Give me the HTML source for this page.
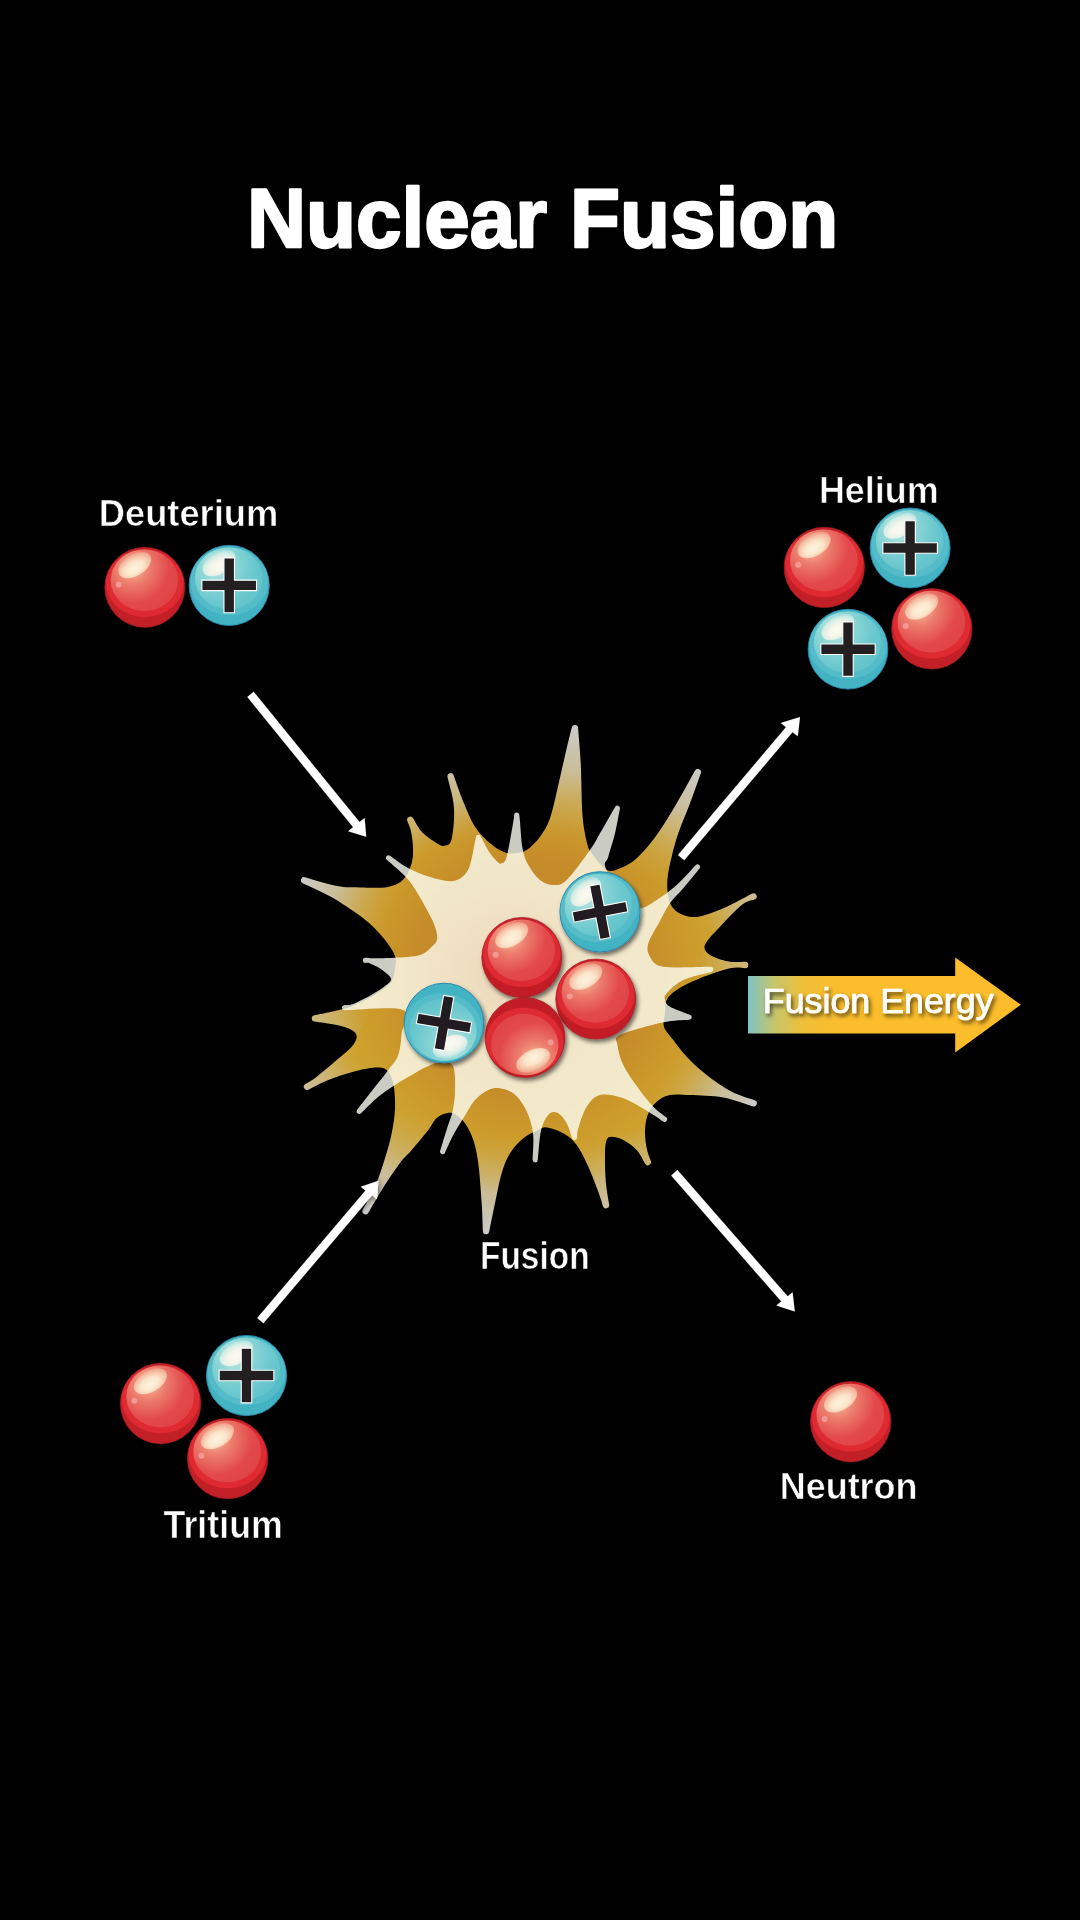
<!DOCTYPE html>
<html><head><meta charset="utf-8"><style>
html,body{margin:0;padding:0;background:#000;width:1080px;height:1920px;overflow:hidden}
svg{display:block}
text{font-family:"Liberation Sans",sans-serif;font-weight:bold;fill:#fff}
</style></head><body>
<svg width="1080" height="1920" viewBox="0 0 1080 1920">
<defs>

<linearGradient id="tg0" gradientUnits="userSpaceOnUse" x1="391.1" y1="916.4" x2="301.1" y2="879.2"><stop offset="0" stop-color="#c9a040" stop-opacity="0"/><stop offset="0.3" stop-color="#c9b070" stop-opacity="0.50"/><stop offset="0.6" stop-color="#c9c0a4" stop-opacity="0.88"/><stop offset="1" stop-color="#cbcbcb" stop-opacity="1.00"/></linearGradient><linearGradient id="tg1" gradientUnits="userSpaceOnUse" x1="424.4" y1="856.0" x2="408.8" y2="817.0"><stop offset="0" stop-color="#c9a040" stop-opacity="0"/><stop offset="0.3" stop-color="#c9b070" stop-opacity="0.23"/><stop offset="0.6" stop-color="#c9c0a4" stop-opacity="0.40"/><stop offset="1" stop-color="#cbcbcb" stop-opacity="0.45"/></linearGradient><linearGradient id="tg2" gradientUnits="userSpaceOnUse" x1="476.5" y1="841.8" x2="449.7" y2="773.3"><stop offset="0" stop-color="#c9a040" stop-opacity="0"/><stop offset="0.3" stop-color="#c9b070" stop-opacity="0.37"/><stop offset="0.6" stop-color="#c9c0a4" stop-opacity="0.65"/><stop offset="1" stop-color="#cbcbcb" stop-opacity="0.74"/></linearGradient><linearGradient id="tg3" gradientUnits="userSpaceOnUse" x1="561.9" y1="844.3" x2="575.0" y2="725.0"><stop offset="0" stop-color="#c9a040" stop-opacity="0"/><stop offset="0.3" stop-color="#c9b070" stop-opacity="0.50"/><stop offset="0.6" stop-color="#c9c0a4" stop-opacity="0.88"/><stop offset="1" stop-color="#cbcbcb" stop-opacity="1.00"/></linearGradient><linearGradient id="tg4" gradientUnits="userSpaceOnUse" x1="646.1" y1="876.8" x2="699.2" y2="769.2"><stop offset="0" stop-color="#c9a040" stop-opacity="0"/><stop offset="0.3" stop-color="#c9b070" stop-opacity="0.50"/><stop offset="0.6" stop-color="#c9c0a4" stop-opacity="0.88"/><stop offset="1" stop-color="#cbcbcb" stop-opacity="1.00"/></linearGradient><linearGradient id="tg5" gradientUnits="userSpaceOnUse" x1="695.9" y1="925.7" x2="756.7" y2="895.0"><stop offset="0" stop-color="#c9a040" stop-opacity="0"/><stop offset="0.3" stop-color="#c9b070" stop-opacity="0.33"/><stop offset="0.6" stop-color="#c9c0a4" stop-opacity="0.57"/><stop offset="1" stop-color="#cbcbcb" stop-opacity="0.65"/></linearGradient><linearGradient id="tg6" gradientUnits="userSpaceOnUse" x1="692.1" y1="974.0" x2="748.3" y2="965.0"><stop offset="0" stop-color="#c9a040" stop-opacity="0"/><stop offset="0.3" stop-color="#c9b070" stop-opacity="0.24"/><stop offset="0.6" stop-color="#c9c0a4" stop-opacity="0.42"/><stop offset="1" stop-color="#cbcbcb" stop-opacity="0.47"/></linearGradient><linearGradient id="tg7" gradientUnits="userSpaceOnUse" x1="671.2" y1="1056.2" x2="756.7" y2="1104.2"><stop offset="0" stop-color="#c9a040" stop-opacity="0"/><stop offset="0.3" stop-color="#c9b070" stop-opacity="0.50"/><stop offset="0.6" stop-color="#c9c0a4" stop-opacity="0.88"/><stop offset="1" stop-color="#cbcbcb" stop-opacity="1.00"/></linearGradient><linearGradient id="tg8" gradientUnits="userSpaceOnUse" x1="635.7" y1="1123.8" x2="649.2" y2="1165.0"><stop offset="0" stop-color="#c9a040" stop-opacity="0"/><stop offset="0.3" stop-color="#c9b070" stop-opacity="0.23"/><stop offset="0.6" stop-color="#c9c0a4" stop-opacity="0.40"/><stop offset="1" stop-color="#cbcbcb" stop-opacity="0.45"/></linearGradient><linearGradient id="tg9" gradientUnits="userSpaceOnUse" x1="582.0" y1="1139.7" x2="606.7" y2="1208.3"><stop offset="0" stop-color="#c9a040" stop-opacity="0"/><stop offset="0.3" stop-color="#c9b070" stop-opacity="0.36"/><stop offset="0.6" stop-color="#c9c0a4" stop-opacity="0.64"/><stop offset="1" stop-color="#cbcbcb" stop-opacity="0.73"/></linearGradient><linearGradient id="tg10" gradientUnits="userSpaceOnUse" x1="499.3" y1="1132.2" x2="485.8" y2="1234.2"><stop offset="0" stop-color="#c9a040" stop-opacity="0"/><stop offset="0.3" stop-color="#c9b070" stop-opacity="0.50"/><stop offset="0.6" stop-color="#c9c0a4" stop-opacity="0.88"/><stop offset="1" stop-color="#cbcbcb" stop-opacity="1.00"/></linearGradient><linearGradient id="tg11" gradientUnits="userSpaceOnUse" x1="414.7" y1="1105.2" x2="364.0" y2="1214.0"><stop offset="0" stop-color="#c9a040" stop-opacity="0"/><stop offset="0.3" stop-color="#c9b070" stop-opacity="0.50"/><stop offset="0.6" stop-color="#c9c0a4" stop-opacity="0.88"/><stop offset="1" stop-color="#cbcbcb" stop-opacity="1.00"/></linearGradient><linearGradient id="tg12" gradientUnits="userSpaceOnUse" x1="364.9" y1="1056.8" x2="304.2" y2="1088.3"><stop offset="0" stop-color="#c9a040" stop-opacity="0"/><stop offset="0.3" stop-color="#c9b070" stop-opacity="0.33"/><stop offset="0.6" stop-color="#c9c0a4" stop-opacity="0.58"/><stop offset="1" stop-color="#cbcbcb" stop-opacity="0.66"/></linearGradient><linearGradient id="tg13" gradientUnits="userSpaceOnUse" x1="369.7" y1="1003.0" x2="311.7" y2="1018.3"><stop offset="0" stop-color="#c9a040" stop-opacity="0"/><stop offset="0.3" stop-color="#c9b070" stop-opacity="0.26"/><stop offset="0.6" stop-color="#c9c0a4" stop-opacity="0.46"/><stop offset="1" stop-color="#cbcbcb" stop-opacity="0.52"/></linearGradient>
<radialGradient id="peach" cx="505" cy="975" r="130" gradientUnits="userSpaceOnUse"><stop offset="0" stop-color="#e8c6a6" stop-opacity="0.5"/><stop offset="0.55" stop-color="#ebd0b0" stop-opacity="0.22"/><stop offset="1" stop-color="#f0dcc0" stop-opacity="0"/></radialGradient>
<linearGradient id="goldEdge"><stop offset="0" stop-color="#ca9b2b" stop-opacity="0"/></linearGradient>
<radialGradient id="rOuter" cx="0" cy="0" r="40" gradientUnits="userSpaceOnUse" fx="0" fy="-30">
 <stop offset="0" stop-color="#d9272d"/><stop offset="1" stop-color="#bb1f26"/>
</radialGradient>
<radialGradient id="rInner" cx="-12" cy="-20" r="48" gradientUnits="userSpaceOnUse">
 <stop offset="0" stop-color="#f7c0a2"/><stop offset="0.35" stop-color="#ec7d6c"/><stop offset="0.75" stop-color="#e3494c"/><stop offset="1" stop-color="#e04447"/>
</radialGradient>
<radialGradient id="rHi" cx="0.45" cy="0.6" r="0.6" fx="0.45" fy="0.62">
 <stop offset="0" stop-color="#fdf3de"/><stop offset="0.45" stop-color="#fbe6cc"/><stop offset="0.8" stop-color="#f6c4a8" stop-opacity="0.92"/><stop offset="1" stop-color="#f2a690" stop-opacity="0.8"/>
</radialGradient>
<radialGradient id="bInner" cx="-12" cy="-20" r="50" gradientUnits="userSpaceOnUse">
 <stop offset="0" stop-color="#d6efe6"/><stop offset="0.35" stop-color="#8dd6d6"/><stop offset="0.75" stop-color="#6ac8ce"/><stop offset="1" stop-color="#62c3ca"/>
</radialGradient>
<radialGradient id="bHi" cx="0.45" cy="0.6" r="0.6" fx="0.45" fy="0.62">
 <stop offset="0" stop-color="#fcfbf2"/><stop offset="0.45" stop-color="#f3f4ea"/><stop offset="0.8" stop-color="#d8efe8" stop-opacity="0.92"/><stop offset="1" stop-color="#b2e2e0" stop-opacity="0.8"/>
</radialGradient>
<clipPath id="cc"><circle r="40"/></clipPath>
<g id="red">
 <circle r="39.7" fill="#c21f27" stroke="#a91c23" stroke-width="0.7"/>
 <ellipse cx="0" cy="-4" rx="38.5" ry="33.5" fill="#de2a30" clip-path="url(#cc)"/>
 <ellipse cx="-0.4" cy="-7" rx="33.5" ry="30.5" fill="url(#rInner)"/>
 <ellipse cx="-10" cy="-22" rx="18" ry="10.5" transform="rotate(-31 -10 -22)" fill="url(#rHi)"/>
 <circle cx="-25.8" cy="-2.7" r="3" fill="#f09891"/>
</g>
<g id="blue">
 <circle r="39.6" fill="#43b3c3" stroke="#2b88ad" stroke-width="0.9"/>
 <ellipse cx="0" cy="-4" rx="38.5" ry="33.5" fill="#53bcc8" clip-path="url(#cc)"/>
 <ellipse cx="-0.4" cy="-7" rx="33.5" ry="30.5" fill="url(#bInner)"/>
 <ellipse cx="-10" cy="-22" rx="18" ry="10.5" transform="rotate(-31 -10 -22)" fill="url(#bHi)"/>
 <path d="M-5.2,-27 H5.2 V-5.2 H27 V5.2 H5.2 V27 H-5.2 V5.2 H-27 V-5.2 H-5.2 Z" fill="#231f20" stroke="#fff" stroke-width="1.1"/>
</g>
<filter id="shd" x="-30%" y="-30%" width="160%" height="160%">
 <feGaussianBlur in="SourceAlpha" stdDeviation="2.2"/><feOffset dx="2.2" dy="3"/>
 <feComponentTransfer><feFuncA type="linear" slope="0.55"/></feComponentTransfer>
 <feMerge><feMergeNode/><feMergeNode in="SourceGraphic"/></feMerge>
</filter>
<radialGradient id="goldBase" cx="530" cy="975" r="260" gradientUnits="userSpaceOnUse"><stop offset="0" stop-color="#c4862a"/><stop offset="0.45" stop-color="#c68c29"/><stop offset="0.62" stop-color="#cc9b2b"/><stop offset="0.75" stop-color="#cfa32d"/><stop offset="1" stop-color="#cfa530"/></radialGradient>
<radialGradient id="goldG" cx="530" cy="975" r="265" gradientUnits="userSpaceOnUse">
 <stop offset="0" stop-color="#cd9a2a"/><stop offset="0.6" stop-color="#cc9d2b"/><stop offset="0.78" stop-color="#c9b06a"/><stop offset="0.92" stop-color="#c8c2ae"/><stop offset="1" stop-color="#cacaca"/>
</radialGradient>
<radialGradient id="creamG" cx="530" cy="975" r="200" gradientUnits="userSpaceOnUse">
 <stop offset="0" stop-color="#eed8bc"/><stop offset="0.4" stop-color="#f2e2c6"/><stop offset="0.68" stop-color="#f3e8cc"/><stop offset="0.8" stop-color="#d9d6cc"/><stop offset="0.9" stop-color="#c9c9c8"/><stop offset="1" stop-color="#c6c6c6"/>
</radialGradient>
<linearGradient id="feG" x1="748" y1="0" x2="1020" y2="0" gradientUnits="userSpaceOnUse">
 <stop offset="0" stop-color="#7cc3c6"/><stop offset="0.09" stop-color="#c2c56f"/><stop offset="0.2" stop-color="#efbf39"/><stop offset="0.35" stop-color="#fbbd2b"/><stop offset="1" stop-color="#fbbd2b"/>
</linearGradient>
<filter id="ashd" x="0" y="0" width="1080" height="1920" filterUnits="userSpaceOnUse"><feGaussianBlur in="SourceAlpha" stdDeviation="3"/><feComponentTransfer><feFuncA type="linear" slope="0.7"/></feComponentTransfer><feMerge><feMergeNode/><feMergeNode in="SourceGraphic"/></feMerge></filter>
<filter id="gAA" x="0" y="0" width="1080" height="1920" filterUnits="userSpaceOnUse"><feOffset dx="0" dy="0"/></filter>
<filter id="tshd" x="-10%" y="-30%" width="120%" height="160%">
 <feGaussianBlur in="SourceAlpha" stdDeviation="2"/><feOffset dx="2.2" dy="2.8"/>
 <feComponentTransfer><feFuncA type="linear" slope="0.65"/></feComponentTransfer>
 <feMerge><feMergeNode/><feMergeNode in="SourceGraphic"/></feMerge>
</filter>
</defs>
<rect width="1080" height="1920" fill="#000"/>
<g filter="url(#gAA)"><text transform="translate(246.97,246.60) scale(0.9754,1)" font-size="83.91" stroke="#fff" stroke-width="2.40" stroke-linejoin="round">Nuclear Fusion</text><text transform="translate(98.76,525.80) scale(0.9670,1)" font-size="37.54" stroke="#000" stroke-width="0.60" stroke-linejoin="round">Deuterium</text><text transform="translate(818.89,502.70) scale(0.9566,1)" font-size="37.54" stroke="#000" stroke-width="0.60" stroke-linejoin="round">Helium</text><text transform="translate(163.54,1537.90) scale(0.9286,1)" font-size="38.55" stroke="#000" stroke-width="0.60" stroke-linejoin="round">Tritium</text><text transform="translate(779.68,1499.40) scale(0.9510,1)" font-size="37.83" stroke="#000" stroke-width="0.60" stroke-linejoin="round">Neutron</text><text transform="translate(479.96,1269.40) scale(0.8519,1)" font-size="39.28" stroke="#000" stroke-width="0.60" stroke-linejoin="round">Fusion</text></g>
<use href="#red" transform="translate(144.8,587.3) rotate(0) scale(1.0075)"/><use href="#blue" transform="translate(229.2,585.4) rotate(0) scale(1.0125)"/>
<use href="#red" transform="translate(824.3,567.4) rotate(0) scale(1.0125)"/><use href="#blue" transform="translate(910.1,548) rotate(0) scale(1.0100)"/><use href="#blue" transform="translate(848,649.2) rotate(0) scale(1.0075)"/><use href="#red" transform="translate(931.8,628.8) rotate(0) scale(1.0125)"/>
<use href="#red" transform="translate(160.6,1403.5) rotate(0) scale(1.0125)"/><use href="#blue" transform="translate(246.5,1375.5) rotate(0) scale(1.0125)"/><use href="#red" transform="translate(227.6,1458.5) rotate(0) scale(1.0125)"/>
<use href="#red" transform="translate(850.7,1421.7) rotate(0) scale(1.0125)"/>
<mask id="goldMask" maskUnits="userSpaceOnUse" x="0" y="0" width="1080" height="1920"><path d="M302.71,883.20 A3.20,3.20 0 0 1 304.95,877.23 C311.40,879.01 328.12,884.39 337.20,886.10 C346.28,887.81 351.53,887.27 359.40,887.50 C367.27,887.73 377.92,888.20 384.40,887.50 C390.88,886.80 394.58,885.38 398.30,883.30 C402.02,881.22 404.38,878.70 406.70,875.00 C409.02,871.30 411.17,865.97 412.20,861.10 C413.23,856.23 413.13,850.88 412.90,845.80 C412.67,840.72 411.73,834.75 410.80,830.60 C409.87,826.45 408.00,822.85 407.30,820.91 A3.20,3.20 0 0 1 412.99,818.07 C414.83,820.90 417.88,827.81 422.20,832.20 C426.52,836.59 435.00,842.17 438.90,844.40 C442.80,846.63 443.57,846.15 445.60,845.60 C447.63,845.05 449.72,845.18 451.10,841.10 C452.48,837.02 453.53,827.67 453.90,821.10 C454.27,814.53 454.36,809.03 453.30,801.70 C452.24,794.37 448.67,782.02 447.51,777.10 A3.20,3.20 0 0 1 453.63,775.26 C455.57,780.55 459.74,793.13 463.30,801.70 C466.86,810.27 470.55,819.77 475.00,826.70 C479.45,833.63 485.28,839.13 490.00,843.30 C494.72,847.47 499.42,850.03 503.30,851.70 C507.18,853.37 509.40,853.58 513.30,853.30 C517.20,853.02 522.25,852.77 526.70,850.00 C531.15,847.23 536.12,841.98 540.00,836.70 C543.88,831.42 546.95,826.92 550.00,818.30 C553.05,809.68 555.52,796.67 558.30,785.00 C561.08,773.33 564.46,757.89 566.70,748.30 C568.94,738.71 570.75,731.61 571.76,727.44 A3.20,3.20 0 0 1 578.07,727.96 C578.61,735.37 580.06,750.49 580.80,765.00 C581.54,779.51 581.52,802.22 582.50,815.00 C583.48,827.78 585.17,835.32 586.70,841.70 C588.23,848.08 588.37,848.58 591.70,853.30 C595.03,858.02 601.98,867.50 606.70,870.00 C611.42,872.50 615.00,870.25 620.00,868.30 C625.00,866.35 630.58,863.85 636.70,858.30 C642.82,852.75 650.03,844.17 656.70,835.00 C663.37,825.83 670.31,814.04 676.70,803.30 C683.09,792.56 691.39,777.09 695.06,770.54 A3.20,3.20 0 0 1 700.86,773.19 C698.69,779.21 693.76,793.28 690.00,803.30 C686.24,813.32 681.35,824.40 678.30,833.30 C675.25,842.20 673.50,849.20 671.70,856.70 C669.90,864.20 668.07,871.63 667.50,878.30 C666.93,884.97 667.33,891.70 668.30,896.70 C669.27,901.70 670.80,905.25 673.30,908.30 C675.80,911.35 679.13,913.60 683.30,915.00 C687.47,916.40 691.63,917.82 698.30,916.70 C704.97,915.58 714.29,912.16 723.30,908.30 C732.31,904.44 746.55,896.49 752.37,893.54 A3.20,3.20 0 0 1 755.07,899.33 C752.39,900.47 747.54,900.44 741.70,905.00 C735.86,909.56 725.83,920.58 720.00,926.70 C714.17,932.82 709.20,937.82 706.70,941.70 C704.20,945.58 703.90,947.50 705.00,950.00 C706.10,952.50 709.13,954.75 713.30,956.70 C717.47,958.65 724.70,960.85 730.00,961.70 C735.30,962.55 742.10,961.78 745.12,961.80 A3.20,3.20 0 0 1 745.12,968.20 C742.10,968.22 737.52,966.62 730.00,968.30 C722.48,969.98 708.88,974.68 700.00,978.30 C691.12,981.92 682.25,986.38 676.70,990.00 C671.15,993.62 668.65,996.12 666.70,1000.00 C664.75,1003.88 665.45,1008.85 665.00,1013.30 C664.55,1017.75 662.62,1022.25 664.00,1026.70 C665.38,1031.15 669.52,1035.00 673.30,1040.00 C677.08,1045.00 681.13,1050.87 686.70,1056.70 C692.27,1062.53 699.20,1069.17 706.70,1075.00 C714.20,1080.83 723.69,1087.50 731.70,1091.70 C739.71,1095.90 750.15,1098.50 754.77,1100.20 A3.20,3.20 0 0 1 752.75,1106.27 C746.86,1104.51 733.76,1099.38 723.30,1097.50 C712.84,1095.62 698.88,1095.42 690.00,1095.00 C681.12,1094.58 675.55,1093.88 670.00,1095.00 C664.45,1096.12 660.32,1098.65 656.70,1101.70 C653.08,1104.75 650.25,1108.58 648.30,1113.30 C646.35,1118.02 645.27,1124.17 645.00,1130.00 C644.73,1135.83 645.72,1143.11 646.70,1148.30 C647.68,1153.49 650.04,1158.55 650.87,1161.12 A3.20,3.20 0 0 1 645.10,1163.77 C643.42,1161.02 640.33,1153.96 636.70,1150.00 C633.07,1146.04 627.47,1142.22 623.30,1140.00 C619.13,1137.78 614.47,1136.70 611.70,1136.70 C608.93,1136.70 607.82,1137.23 606.70,1140.00 C605.58,1142.77 605.15,1146.35 605.00,1153.30 C604.85,1160.25 605.10,1173.13 605.80,1181.70 C606.50,1190.27 608.51,1200.10 609.19,1204.70 A3.20,3.20 0 0 1 602.98,1206.16 C602.05,1203.27 600.75,1198.28 598.30,1191.70 C595.85,1185.12 591.90,1174.48 588.30,1166.70 C584.70,1158.92 580.87,1150.57 576.70,1145.00 C572.53,1139.43 568.30,1136.22 563.30,1133.30 C558.30,1130.38 550.87,1128.05 546.70,1127.50 C542.53,1126.95 542.20,1128.20 538.30,1130.00 C534.40,1131.80 528.02,1134.42 523.30,1138.30 C518.58,1142.18 513.60,1147.47 510.00,1153.30 C506.40,1159.13 504.20,1164.97 501.70,1173.30 C499.20,1181.63 497.08,1193.57 495.00,1203.30 C492.92,1213.03 490.36,1225.98 489.20,1231.65 A3.20,3.20 0 0 1 482.87,1231.14 C482.63,1225.58 482.46,1214.61 481.70,1203.30 C480.94,1191.99 479.70,1173.85 478.30,1163.30 C476.90,1152.75 475.52,1146.67 473.30,1140.00 C471.08,1133.33 468.05,1127.60 465.00,1123.30 C461.95,1119.00 458.05,1115.87 455.00,1114.20 C451.95,1112.53 449.75,1112.67 446.70,1113.30 C443.65,1113.93 439.77,1115.22 436.70,1118.00 C433.63,1120.78 432.47,1124.67 428.30,1130.00 C424.13,1135.33 416.42,1144.50 411.70,1150.00 C406.98,1155.50 404.78,1156.67 400.00,1163.00 C395.22,1169.33 388.28,1179.69 383.00,1188.00 C377.72,1196.31 371.27,1207.87 368.33,1212.84 A3.20,3.20 0 0 1 362.76,1209.70 C365.21,1205.16 371.29,1195.57 375.00,1187.00 C378.71,1178.43 382.22,1167.25 385.00,1158.30 C387.78,1149.35 390.03,1141.63 391.70,1133.30 C393.37,1124.97 394.73,1116.63 395.00,1108.30 C395.27,1099.97 394.68,1089.68 393.30,1083.30 C391.92,1076.92 389.75,1072.63 386.70,1070.00 C383.65,1067.37 380.57,1067.22 375.00,1067.50 C369.43,1067.78 361.08,1069.62 353.30,1071.70 C345.52,1073.78 335.78,1077.01 328.30,1080.00 C320.82,1082.99 312.39,1087.72 308.41,1089.65 A3.20,3.20 0 0 1 305.27,1084.08 C307.56,1082.61 311.46,1080.71 316.70,1076.70 C321.94,1072.69 330.87,1065.00 336.70,1060.00 C342.53,1055.00 348.37,1050.58 351.70,1046.70 C355.03,1042.82 356.70,1039.48 356.70,1036.70 C356.70,1033.92 355.03,1031.95 351.70,1030.00 C348.37,1028.05 342.92,1026.41 336.70,1025.00 C330.48,1023.59 318.87,1022.22 314.41,1021.53 A3.20,3.20 0 0 1 314.29,1015.23 C317.09,1014.68 323.85,1013.44 328.30,1012.50 C332.75,1011.56 336.80,1010.77 341.00,1009.60 C345.20,1008.43 348.33,1007.68 353.50,1005.50 C358.67,1003.32 366.58,999.58 372.00,996.50 C377.42,993.42 382.58,989.83 386.00,987.00 C389.42,984.17 390.92,983.00 392.50,979.50 C394.08,976.00 395.03,969.77 395.50,966.00 C395.97,962.23 396.33,960.28 395.30,956.90 C394.27,953.52 392.47,950.18 389.30,945.70 C386.13,941.22 381.28,935.07 376.30,930.00 C371.32,924.93 366.83,920.77 359.40,915.30 C351.97,909.83 341.15,902.55 331.70,897.20 C322.25,891.85 308.51,886.00 302.71,883.20Z" fill="#fff"/></mask>
<clipPath id="creamClip"><path d="M386.81,859.85 A2.60,2.60 0 0 1 390.00,855.76 C393.60,858.21 401.33,864.46 408.00,868.00 C414.67,871.54 422.45,874.83 430.00,877.00 C437.55,879.17 446.97,882.17 453.30,881.00 C459.63,879.83 464.38,876.55 468.00,870.00 C471.62,863.45 473.68,847.21 475.00,841.70 C476.32,836.19 475.73,837.88 475.91,836.93 A2.60,2.60 0 0 1 480.75,836.18 C482.60,839.60 487.08,848.91 490.00,853.30 C492.92,857.69 496.35,860.83 498.30,862.50 C500.25,864.17 500.30,864.27 501.70,863.30 C503.10,862.33 504.77,863.63 506.70,856.70 C508.63,849.77 512.07,828.68 513.30,821.70 C514.53,814.72 513.94,816.18 514.10,814.80 A2.60,2.60 0 0 1 519.27,814.83 C519.42,816.20 519.46,816.12 520.00,821.70 C520.54,827.28 521.12,841.08 522.50,848.30 C523.88,855.52 525.38,859.72 528.30,865.00 C531.22,870.28 535.83,876.67 540.00,880.00 C544.17,883.33 548.85,885.00 553.30,885.00 C557.75,885.00 560.58,885.83 566.70,880.00 C572.82,874.17 584.45,857.78 590.00,850.00 C595.55,842.22 595.82,840.48 600.00,833.30 C604.18,826.12 612.07,812.20 615.09,806.93 A2.60,2.60 0 0 1 619.90,808.73 C618.92,813.64 616.93,825.30 615.00,833.30 C613.07,841.30 609.83,850.87 608.30,856.70 C606.77,862.53 603.02,861.08 605.80,868.30 C608.58,875.52 619.30,893.33 625.00,900.00 C630.70,906.67 634.72,908.30 640.00,908.30 C645.28,908.30 650.58,903.88 656.70,900.00 C662.82,896.12 670.22,890.81 676.70,885.00 C683.18,879.19 691.81,869.12 695.59,865.15 A2.60,2.60 0 0 1 699.48,868.60 C696.25,872.54 688.21,882.57 683.30,888.30 C678.39,894.03 673.88,897.55 670.00,903.00 C666.12,908.45 663.62,914.28 660.00,921.00 C656.38,927.72 649.97,937.35 648.30,943.30 C646.63,949.25 647.50,952.80 650.00,956.70 C652.50,960.60 653.18,965.01 663.30,966.70 C673.42,968.39 701.24,966.83 710.72,966.87 A2.60,2.60 0 0 1 711.43,971.97 C705.80,973.57 690.75,976.44 683.30,980.00 C675.85,983.56 669.75,989.97 666.70,993.30 C663.65,996.63 664.45,997.77 665.00,1000.00 C665.55,1002.23 665.82,1004.23 670.00,1006.70 C674.18,1009.17 686.07,1013.18 690.09,1014.79 A2.60,2.60 0 0 1 689.38,1019.79 C684.00,1020.33 674.06,1019.97 662.50,1022.50 C650.94,1025.03 627.50,1031.25 620.00,1035.00 C612.50,1038.75 616.95,1040.00 617.50,1045.00 C618.05,1050.00 619.83,1057.78 623.30,1065.00 C626.77,1072.22 633.30,1081.35 638.30,1088.30 C643.30,1095.25 648.64,1101.87 653.30,1106.70 C657.96,1111.53 663.65,1115.14 666.24,1117.25 A2.60,2.60 0 0 1 663.18,1121.44 C660.20,1119.49 654.95,1115.56 648.30,1111.70 C641.65,1107.84 631.35,1101.08 623.30,1098.30 C615.25,1095.52 606.10,1093.60 600.00,1095.00 C593.90,1096.40 590.32,1101.15 586.70,1106.70 C583.08,1112.25 579.90,1123.12 578.30,1128.30 C576.70,1133.48 577.36,1135.87 577.13,1137.76 A2.60,2.60 0 0 1 572.10,1138.32 C571.02,1135.32 569.00,1127.47 566.70,1123.30 C564.40,1119.13 561.08,1114.97 558.30,1113.30 C555.52,1111.63 552.50,1111.63 550.00,1113.30 C547.50,1114.97 544.97,1119.40 543.30,1123.30 C541.63,1127.20 540.92,1130.56 540.00,1136.70 C539.08,1142.84 538.20,1155.46 537.75,1160.15 A2.60,2.60 0 0 1 532.57,1159.82 C532.71,1155.20 533.73,1143.34 533.30,1136.70 C532.87,1130.06 531.67,1125.28 530.00,1120.00 C528.33,1114.72 526.08,1109.45 523.30,1105.00 C520.52,1100.55 517.18,1096.08 513.30,1093.30 C509.42,1090.52 504.17,1088.85 500.00,1088.30 C495.83,1087.75 492.47,1088.05 488.30,1090.00 C484.13,1091.95 479.17,1095.28 475.00,1100.00 C470.83,1104.72 466.92,1112.47 463.30,1118.30 C459.68,1124.13 456.35,1129.27 453.30,1135.00 C450.25,1140.73 446.64,1149.14 444.97,1152.68 A2.60,2.60 0 0 1 440.14,1150.80 C441.61,1146.04 445.44,1133.55 447.50,1127.00 C449.56,1120.45 451.25,1117.38 452.50,1111.50 C453.75,1105.62 454.87,1099.17 455.00,1091.70 C455.13,1084.23 455.52,1071.70 453.30,1066.70 C451.08,1061.70 446.13,1061.70 441.70,1061.70 C437.27,1061.70 431.70,1064.48 426.70,1066.70 C421.70,1068.92 416.98,1071.95 411.70,1075.00 C406.42,1078.05 400.57,1081.38 395.00,1085.00 C389.43,1088.62 383.96,1091.99 378.30,1096.70 C372.64,1101.41 364.50,1109.94 361.05,1113.25 A2.60,2.60 0 0 1 357.20,1109.78 C359.76,1106.49 364.82,1099.93 370.00,1093.30 C375.18,1086.67 383.58,1076.38 388.30,1070.00 C393.02,1063.62 396.07,1061.12 398.30,1055.00 C400.53,1048.88 400.92,1040.80 401.70,1033.30 C402.48,1025.80 412.51,1013.83 403.00,1010.00 C393.49,1006.17 356.29,1010.27 344.61,1010.34 A2.60,2.60 0 0 1 344.26,1005.16 C346.03,1004.93 348.53,1005.73 353.10,1004.00 C357.67,1002.27 366.28,997.87 371.70,994.80 C377.12,991.73 382.38,988.32 385.60,985.60 C388.82,982.88 391.78,981.28 391.00,978.50 C390.22,975.72 384.40,971.40 380.90,968.90 C377.40,966.40 372.62,964.50 370.00,963.50 C367.38,962.50 366.13,963.01 365.17,962.89 A2.60,2.60 0 0 1 365.64,957.71 C367.39,957.81 369.54,958.19 374.40,958.20 C379.26,958.21 387.20,958.33 394.80,957.80 C402.40,957.27 413.85,956.85 420.00,955.00 C426.15,953.15 428.83,949.38 431.70,946.70 C434.57,944.02 436.75,942.52 437.20,938.90 C437.65,935.28 436.25,930.10 434.40,925.00 C432.55,919.90 429.33,914.32 426.10,908.30 C422.87,902.28 418.47,894.22 415.00,888.90 C411.53,883.58 410.00,881.24 405.30,876.40 C400.60,871.56 390.51,863.16 386.81,859.85Z"/></clipPath>
<g mask="url(#goldMask)"><rect x="280" y="700" width="500" height="560" fill="url(#goldBase)"/><polygon points="287.3,886.5 296.4,864.3 406.7,875.0 395.5,966.0" fill="url(#tg0)"/><polygon points="393.9,812.2 416.2,803.3 445.6,845.6 406.7,875.0" fill="url(#tg1)"/><polygon points="434.9,768.4 457.2,759.6 513.3,853.3 445.6,845.6" fill="url(#tg2)"/><polygon points="513.3,853.3 564.2,713.8 588.0,716.4 606.7,870.0" fill="url(#tg3)"/><polygon points="606.7,870.0 692.9,754.9 714.4,765.5 673.3,908.3" fill="url(#tg4)"/><polygon points="673.3,908.3 760.2,879.8 771.0,901.2 705.0,950.0" fill="url(#tg5)"/><polygon points="666.7,1000.0 705.0,950.0 756.3,951.6 760.1,975.3" fill="url(#tg6)"/><polygon points="656.7,1101.7 665.0,1013.3 666.7,1000.0 771.3,1098.6 759.5,1119.6" fill="url(#tg7)"/><polygon points="611.7,1136.7 656.7,1101.7 663.7,1170.8 640.9,1178.2" fill="url(#tg8)"/><polygon points="546.7,1127.5 611.7,1136.7 621.4,1213.6 598.8,1221.8" fill="url(#tg9)"/><polygon points="455.0,1114.2 546.7,1127.5 496.4,1245.7 472.6,1242.5" fill="url(#tg10)"/><polygon points="348.9,1218.0 386.7,1070.0 455.0,1114.2 370.6,1228.1" fill="url(#tg11)"/><polygon points="289.8,1082.2 356.7,1036.7 386.7,1070.0 300.8,1103.6" fill="url(#tg12)"/><polygon points="299.0,1009.2 395.5,966.0 392.5,979.5 356.7,1036.7 305.1,1032.5" fill="url(#tg13)"/></g>
<g opacity="0.8"><path d="M386.81,859.85 A2.60,2.60 0 0 1 390.00,855.76 C393.60,858.21 401.33,864.46 408.00,868.00 C414.67,871.54 422.45,874.83 430.00,877.00 C437.55,879.17 446.97,882.17 453.30,881.00 C459.63,879.83 464.38,876.55 468.00,870.00 C471.62,863.45 473.68,847.21 475.00,841.70 C476.32,836.19 475.73,837.88 475.91,836.93 A2.60,2.60 0 0 1 480.75,836.18 C482.60,839.60 487.08,848.91 490.00,853.30 C492.92,857.69 496.35,860.83 498.30,862.50 C500.25,864.17 500.30,864.27 501.70,863.30 C503.10,862.33 504.77,863.63 506.70,856.70 C508.63,849.77 512.07,828.68 513.30,821.70 C514.53,814.72 513.94,816.18 514.10,814.80 A2.60,2.60 0 0 1 519.27,814.83 C519.42,816.20 519.46,816.12 520.00,821.70 C520.54,827.28 521.12,841.08 522.50,848.30 C523.88,855.52 525.38,859.72 528.30,865.00 C531.22,870.28 535.83,876.67 540.00,880.00 C544.17,883.33 548.85,885.00 553.30,885.00 C557.75,885.00 560.58,885.83 566.70,880.00 C572.82,874.17 584.45,857.78 590.00,850.00 C595.55,842.22 595.82,840.48 600.00,833.30 C604.18,826.12 612.07,812.20 615.09,806.93 A2.60,2.60 0 0 1 619.90,808.73 C618.92,813.64 616.93,825.30 615.00,833.30 C613.07,841.30 609.83,850.87 608.30,856.70 C606.77,862.53 603.02,861.08 605.80,868.30 C608.58,875.52 619.30,893.33 625.00,900.00 C630.70,906.67 634.72,908.30 640.00,908.30 C645.28,908.30 650.58,903.88 656.70,900.00 C662.82,896.12 670.22,890.81 676.70,885.00 C683.18,879.19 691.81,869.12 695.59,865.15 A2.60,2.60 0 0 1 699.48,868.60 C696.25,872.54 688.21,882.57 683.30,888.30 C678.39,894.03 673.88,897.55 670.00,903.00 C666.12,908.45 663.62,914.28 660.00,921.00 C656.38,927.72 649.97,937.35 648.30,943.30 C646.63,949.25 647.50,952.80 650.00,956.70 C652.50,960.60 653.18,965.01 663.30,966.70 C673.42,968.39 701.24,966.83 710.72,966.87 A2.60,2.60 0 0 1 711.43,971.97 C705.80,973.57 690.75,976.44 683.30,980.00 C675.85,983.56 669.75,989.97 666.70,993.30 C663.65,996.63 664.45,997.77 665.00,1000.00 C665.55,1002.23 665.82,1004.23 670.00,1006.70 C674.18,1009.17 686.07,1013.18 690.09,1014.79 A2.60,2.60 0 0 1 689.38,1019.79 C684.00,1020.33 674.06,1019.97 662.50,1022.50 C650.94,1025.03 627.50,1031.25 620.00,1035.00 C612.50,1038.75 616.95,1040.00 617.50,1045.00 C618.05,1050.00 619.83,1057.78 623.30,1065.00 C626.77,1072.22 633.30,1081.35 638.30,1088.30 C643.30,1095.25 648.64,1101.87 653.30,1106.70 C657.96,1111.53 663.65,1115.14 666.24,1117.25 A2.60,2.60 0 0 1 663.18,1121.44 C660.20,1119.49 654.95,1115.56 648.30,1111.70 C641.65,1107.84 631.35,1101.08 623.30,1098.30 C615.25,1095.52 606.10,1093.60 600.00,1095.00 C593.90,1096.40 590.32,1101.15 586.70,1106.70 C583.08,1112.25 579.90,1123.12 578.30,1128.30 C576.70,1133.48 577.36,1135.87 577.13,1137.76 A2.60,2.60 0 0 1 572.10,1138.32 C571.02,1135.32 569.00,1127.47 566.70,1123.30 C564.40,1119.13 561.08,1114.97 558.30,1113.30 C555.52,1111.63 552.50,1111.63 550.00,1113.30 C547.50,1114.97 544.97,1119.40 543.30,1123.30 C541.63,1127.20 540.92,1130.56 540.00,1136.70 C539.08,1142.84 538.20,1155.46 537.75,1160.15 A2.60,2.60 0 0 1 532.57,1159.82 C532.71,1155.20 533.73,1143.34 533.30,1136.70 C532.87,1130.06 531.67,1125.28 530.00,1120.00 C528.33,1114.72 526.08,1109.45 523.30,1105.00 C520.52,1100.55 517.18,1096.08 513.30,1093.30 C509.42,1090.52 504.17,1088.85 500.00,1088.30 C495.83,1087.75 492.47,1088.05 488.30,1090.00 C484.13,1091.95 479.17,1095.28 475.00,1100.00 C470.83,1104.72 466.92,1112.47 463.30,1118.30 C459.68,1124.13 456.35,1129.27 453.30,1135.00 C450.25,1140.73 446.64,1149.14 444.97,1152.68 A2.60,2.60 0 0 1 440.14,1150.80 C441.61,1146.04 445.44,1133.55 447.50,1127.00 C449.56,1120.45 451.25,1117.38 452.50,1111.50 C453.75,1105.62 454.87,1099.17 455.00,1091.70 C455.13,1084.23 455.52,1071.70 453.30,1066.70 C451.08,1061.70 446.13,1061.70 441.70,1061.70 C437.27,1061.70 431.70,1064.48 426.70,1066.70 C421.70,1068.92 416.98,1071.95 411.70,1075.00 C406.42,1078.05 400.57,1081.38 395.00,1085.00 C389.43,1088.62 383.96,1091.99 378.30,1096.70 C372.64,1101.41 364.50,1109.94 361.05,1113.25 A2.60,2.60 0 0 1 357.20,1109.78 C359.76,1106.49 364.82,1099.93 370.00,1093.30 C375.18,1086.67 383.58,1076.38 388.30,1070.00 C393.02,1063.62 396.07,1061.12 398.30,1055.00 C400.53,1048.88 400.92,1040.80 401.70,1033.30 C402.48,1025.80 412.51,1013.83 403.00,1010.00 C393.49,1006.17 356.29,1010.27 344.61,1010.34 A2.60,2.60 0 0 1 344.26,1005.16 C346.03,1004.93 348.53,1005.73 353.10,1004.00 C357.67,1002.27 366.28,997.87 371.70,994.80 C377.12,991.73 382.38,988.32 385.60,985.60 C388.82,982.88 391.78,981.28 391.00,978.50 C390.22,975.72 384.40,971.40 380.90,968.90 C377.40,966.40 372.62,964.50 370.00,963.50 C367.38,962.50 366.13,963.01 365.17,962.89 A2.60,2.60 0 0 1 365.64,957.71 C367.39,957.81 369.54,958.19 374.40,958.20 C379.26,958.21 387.20,958.33 394.80,957.80 C402.40,957.27 413.85,956.85 420.00,955.00 C426.15,953.15 428.83,949.38 431.70,946.70 C434.57,944.02 436.75,942.52 437.20,938.90 C437.65,935.28 436.25,930.10 434.40,925.00 C432.55,919.90 429.33,914.32 426.10,908.30 C422.87,902.28 418.47,894.22 415.00,888.90 C411.53,883.58 410.00,881.24 405.30,876.40 C400.60,871.56 390.51,863.16 386.81,859.85Z" fill="#fdfff4"/></g>
<g clip-path="url(#creamClip)"><circle cx="505" cy="975" r="130" fill="url(#peach)"/></g>
<g filter="url(#ashd)"><polygon points="247.3,697.0 354.4,828.8 360.7,823.6 253.7,691.8" fill="#fff"/><polygon points="366.2,836.8 348.0,831.3 364.6,818.0" fill="#fff"/><polygon points="684.2,860.3 793.7,730.8 787.4,725.5 678.0,855.1" fill="#fff"/><polygon points="800.0,717.0 780.7,723.0 797.8,736.3" fill="#fff"/><polygon points="263.4,1323.3 373.3,1194.1 367.0,1188.8 257.2,1318.1" fill="#fff"/><polygon points="378.5,1180.7 360.7,1186.7 377.0,1199.3" fill="#fff"/><polygon points="671.2,1175.5 782.7,1303.1 788.9,1297.7 677.4,1170.1" fill="#fff"/><polygon points="794.8,1311.5 776.3,1305.6 792.6,1292.2" fill="#fff"/></g>
<g filter="url(#shd)"><use href="#blue" transform="translate(600,911.8) rotate(-11) scale(1.0125)"/></g>
<g filter="url(#shd)"><use href="#red" transform="translate(521.8,957.4) rotate(0) scale(1.0075)"/></g>
<g filter="url(#shd)"><use href="#red" transform="translate(595.8,999) rotate(0) scale(1.0075)"/></g>
<g filter="url(#shd)"><use href="#blue" transform="translate(444,1023) rotate(190) scale(1.0050)"/></g>
<g filter="url(#shd)"><use href="#red" transform="translate(525,1037.5) rotate(185) scale(1.0050)"/></g>
<polygon points="748,976 955.2,976 955.2,957.5 1020.8,1004.7 955.2,1052.6 955.2,1033.6 748,1033.6" fill="url(#feG)"/>
<g filter="url(#tshd)"><text transform="translate(762.79,1012.55) scale(1.0042,1)" font-size="35.65" font-weight="normal" style="font-weight:normal" stroke="#fff" stroke-width="0.7" stroke-linejoin="round">Fusion Energy</text></g>
</svg>
</body></html>
